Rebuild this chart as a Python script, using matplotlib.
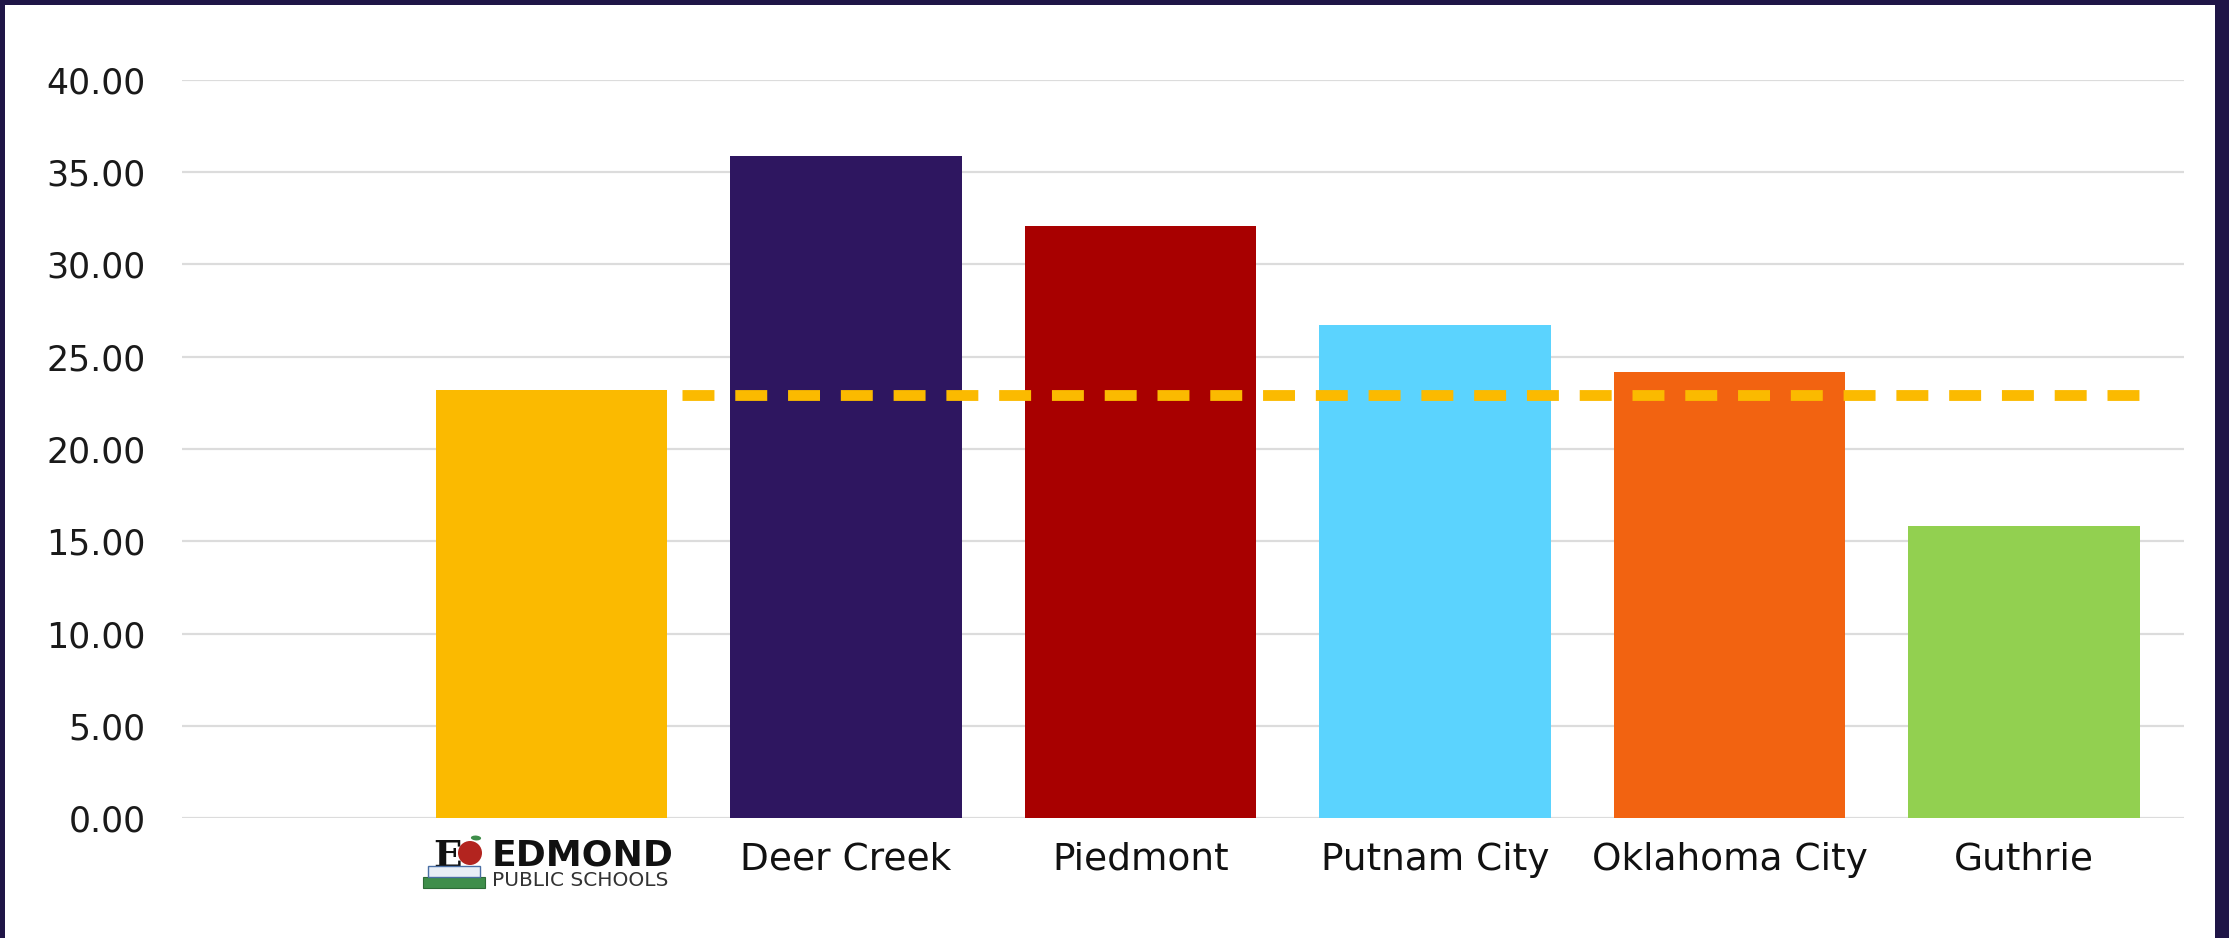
import matplotlib
matplotlib.use("Agg")
import matplotlib.pyplot as plt
from matplotlib.patches import Rectangle, Ellipse

# ---- data ----
categories = ["Edmond Public Schools", "Deer Creek", "Piedmont", "Putnam City", "Oklahoma City", "Guthrie"]
tick_labels = ["", "Deer Creek", "Piedmont", "Putnam City", "Oklahoma City", "Guthrie"]
values = [23.2, 35.9, 32.1, 26.7, 24.2, 15.8]
average_value = 22.9
bar_colors = ["#FBBA00", "#2E1660", "#A80000", "#5BD3FE", "#F26311", "#92D050"]
y_ticks = [0, 5, 10, 15, 20, 25, 30, 35, 40]

W, H = 2229, 938
plt.rcParams["lines.scale_dashes"] = False
fig = plt.figure(figsize=(W / 100, H / 100), dpi=100)
fig.patch.set_facecolor("#1F1547")


def fx(px):
    return px / W


def fy(py):
    return 1 - py / H


# white panel inside the dark frame
fig.patches.append(Rectangle((fx(5), 0), fx(W - 5 - 14), 1 - 5 / H,
                             transform=fig.transFigure, facecolor="white",
                             edgecolor="none", zorder=-10))

ax = fig.add_axes([fx(182), fy(818), fx(2184 - 182), (818 - 80) / H])
ax.set_facecolor("none")

x = list(range(len(categories)))
bar_w = 0.786
ax.bar(x, values, width=bar_w, color=bar_colors, zorder=2)

# average dashed line: from just right of the first bar to right edge of last bar
line_start = x[0] + bar_w / 2 + 0.05
line_end = x[-1] + bar_w / 2
ax.plot([line_start, line_end], [average_value, average_value], color="#FBBA00",
        linewidth=7.8, linestyle=(0, (23, 15)), solid_capstyle="butt",
        dash_capstyle="butt", zorder=3)

ax.set_ylim(0, 40)
ax.set_xlim(-1.255, 5.543)
ax.set_yticks(y_ticks)
ax.set_yticklabels([f"{v:.2f}" for v in y_ticks])
ax.set_xticks(x)
ax.set_xticklabels(tick_labels)
ax.tick_params(axis="y", length=0, pad=26, labelsize=25, labelcolor="#1a1a1a")
ax.tick_params(axis="x", length=0, pad=17, labelsize=27, labelcolor="#111111")
ax.grid(axis="y", color="#dcdcdc", linewidth=1.6, zorder=0)
ax.set_axisbelow(True)
for s in ax.spines.values():
    s.set_visible(False)

# ---- Edmond Public Schools logo (text + simple icon) ----
fig.text(fx(492), fy(866), "EDMOND", fontsize=26, fontweight="bold",
         color="#111111", ha="left", va="baseline")
fig.text(fx(492), fy(886), "PUBLIC SCHOOLS", fontsize=14.5, color="#333333",
         ha="left", va="baseline")
fig.text(fx(433), fy(867), "E", fontsize=27, fontweight="bold",
         family="DejaVu Serif", color="#111111", ha="left", va="baseline")
# books
fig.patches.append(Rectangle((fx(423), fy(888)), fx(62), 11 / H, transform=fig.transFigure,
                             facecolor="#3E8E4A", edgecolor="#2c6b36", linewidth=0.8, zorder=5))
fig.patches.append(Rectangle((fx(428), fy(877)), fx(52), 11 / H, transform=fig.transFigure,
                             facecolor="#E8EEF6", edgecolor="#4A6FA5", linewidth=1.0, zorder=5))
# apple
fig.patches.append(Ellipse((fx(470), fy(853)), fx(24), 24 / H, transform=fig.transFigure,
                           facecolor="#B3241F", edgecolor="none", zorder=6))
fig.patches.append(Ellipse((fx(476), fy(838)), fx(10), 5 / H, angle=20, transform=fig.transFigure,
                           facecolor="#3E8E4A", edgecolor="none", zorder=6))

fig.savefig("out.png", dpi=100, facecolor=fig.get_facecolor())
